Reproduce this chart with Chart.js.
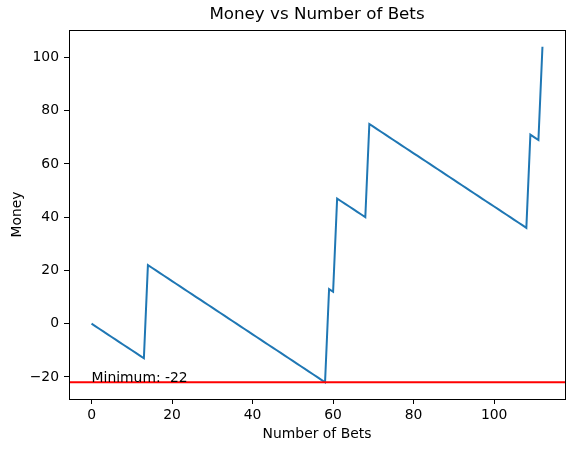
<!DOCTYPE html>
<html>
<head>
<meta charset="utf-8">
<script src="https://cdn.jsdelivr.net/npm/chart.js@4/dist/chart.umd.min.js"></script>
<style>
  html, body { margin: 0; padding: 0; background: #fff; }
  #wrap { width: 574px; height: 453px; }
</style>
</head>
<body>
<div id="wrap"><canvas id="chart" width="574" height="453"></canvas></div>
<script>
// money after each bet (bet number = index)
const money = [
  0, -1, -2, -3, -4, -5, -6, -7, -8, -9, -10, -11, -12, -13,
  22, 21, 20, 19, 18, 17, 16, 15, 14, 13, 12, 11, 10, 9, 8, 7, 6, 5, 4, 3, 2, 1, 0,
  -1, -2, -3, -4, -5, -6, -7, -8, -9, -10, -11, -12, -13, -14, -15, -16, -17, -18, -19, -20, -21, -22,
  13, 12, 47, 46, 45, 44, 43, 42, 41, 40,
  75, 74, 73, 72, 71, 70, 69, 68, 67, 66, 65, 64, 63, 62, 61, 60, 59, 58, 57, 56,
  55, 54, 53, 52, 51, 50, 49, 48, 47, 46, 45, 44, 43, 42, 41, 40, 39, 38, 37, 36,
  71, 70, 69, 104
];
const xTicks = [0, 20, 40, 60, 80, 100];
const yTicks = [-20, 0, 20, 40, 60, 80, 100];

const minMoney = Math.min(...money);
const points = money.map((m, i) => ({ x: i, y: m }));
const FONT = "'DejaVu Sans', sans-serif";

// red line at the minimum + label, and a full box around the axes
const extras = {
  id: "extras",
  afterDatasetsDraw(chart) {
    const { ctx, chartArea, scales } = chart;
    const y = scales.y.getPixelForValue(minMoney);
    ctx.save();
    ctx.strokeStyle = "#ff0000";
    ctx.lineWidth = 2;
    ctx.beginPath();
    ctx.moveTo(chartArea.left, y);
    ctx.lineTo(chartArea.right, y);
    ctx.stroke();
    ctx.fillStyle = "#000";
    ctx.font = "13.9px " + FONT;
    ctx.textAlign = "left";
    ctx.textBaseline = "alphabetic";
    ctx.fillText("Minimum: " + minMoney, scales.x.getPixelForValue(0), y);
    ctx.restore();
  },
  afterDraw(chart) {
    const { ctx, chartArea } = chart;
    ctx.save();
    ctx.strokeStyle = "#000";
    ctx.lineWidth = 1;
    ctx.strokeRect(Math.round(chartArea.left) + 0.5, Math.round(chartArea.top) + 0.5,
      Math.round(chartArea.right - chartArea.left), Math.round(chartArea.bottom - chartArea.top));
    ctx.restore();
  }
};

new Chart(document.getElementById("chart"), {
  type: "line",
  data: {
    datasets: [{
      data: points,
      borderColor: "#1f77b4",
      borderWidth: 2,
      pointRadius: 0,
      tension: 0,
      fill: false
    }]
  },
  options: {
    responsive: false,
    animation: false,
    layout: { padding: { left: 0, right: 9, top: 0, bottom: 0 } },
    plugins: {
      legend: { display: false },
      tooltip: { enabled: false },
      title: {
        display: true,
        text: "Money vs Number of Bets",
        fullSize: false,
        color: "#000",
        font: { family: FONT, size: 16.7, weight: "normal" },
        padding: { top: 5, bottom: 5 }
      }
    },
    scales: {
      x: {
        type: "linear",
        min: -5.6,
        max: 117.6,
        afterFit: (s) => { s.height = 54; },
        afterBuildTicks: (s) => { s.ticks = xTicks.map((v) => ({ value: v })); },
        grid: { drawOnChartArea: false, drawTicks: true, tickLength: 5, color: "#000" },
        border: { display: true, color: "#000", width: 1 },
        ticks: { color: "#000", padding: 3, maxRotation: 0, font: { family: FONT, size: 13.9 } },
        title: {
          display: true,
          text: "Number of Bets",
          color: "#000",
          font: { family: FONT, size: 13.9 },
          padding: { top: 4, bottom: 10 }
        }
      },
      y: {
        type: "linear",
        min: -28.3,
        max: 110.3,
        afterFit: (s) => { s.width = 69; },
        afterBuildTicks: (s) => { s.ticks = yTicks.map((v) => ({ value: v })); },
        grid: { drawOnChartArea: false, drawTicks: true, tickLength: 5, color: "#000" },
        border: { display: true, color: "#000", width: 1 },
        ticks: {
          color: "#000",
          padding: 5,
          font: { family: FONT, size: 13.9 },
          callback: (v) => String(v).replace("-", "\u2212")
        },
        title: {
          display: true,
          text: "Money",
          color: "#000",
          font: { family: FONT, size: 13.9 },
          padding: { top: 9, bottom: 0 }
        }
      }
    }
  },
  plugins: [extras]
});
</script>
</body>
</html>
